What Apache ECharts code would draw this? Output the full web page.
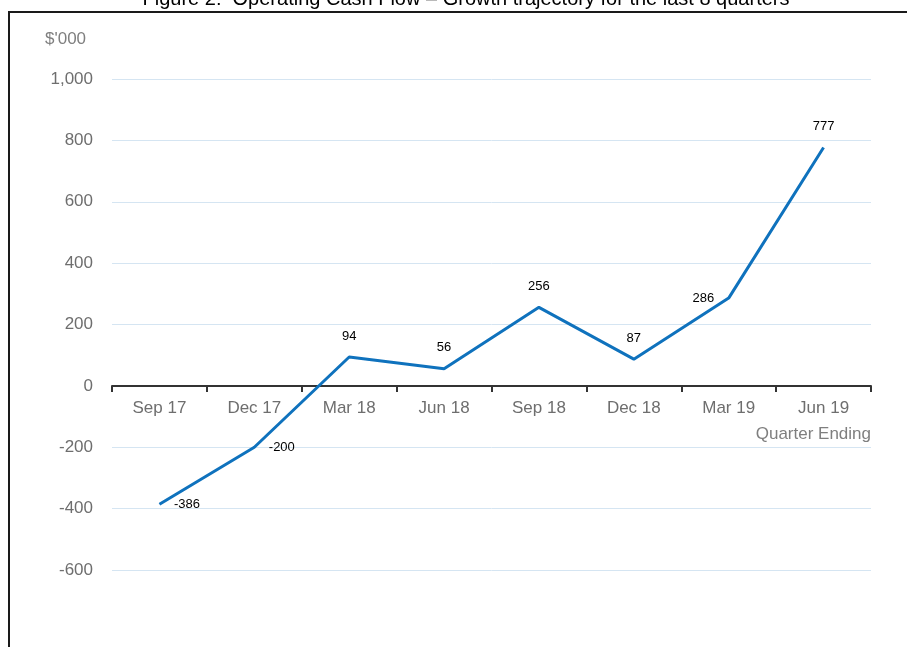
<!DOCTYPE html>
<html>
<head>
<meta charset="utf-8">
<script src="https://cdn.jsdelivr.net/npm/echarts@6/dist/echarts.min.js"></script>
<style>html,body{margin:0;padding:0;background:#fff}#c{width:907px;height:647px}</style>
</head>
<body>
<div id="c"></div>
<script>
const categories = ['Sep 17','Dec 17','Mar 18','Jun 18','Sep 18','Dec 18','Mar 19','Jun 19'];
const cashFlow = [-386, -200, 94, 56, 256, 87, 286, 777];
const labelPositions = ['right','right','top','top','top','top','left','top'];
const yTicks = {min: -600, max: 1000, interval: 200};

const chart = echarts.init(document.getElementById('c'));
const FONT = 'Liberation Sans, Arial, sans-serif';
chart.setOption({
  animation: false,
  textStyle: {fontFamily: FONT},
  grid: {left: 112, right: 36, top: 79, bottom: 77},
  graphic: [
    {type: 'rect', shape: {x: 9, y: 12, width: 1000, height: 700}, style: {fill: 'none', stroke: '#1a1a1a', lineWidth: 2}, z: -1},
    {type: 'text', x: 466, y: -11, style: {text: 'Figure 2:  Operating Cash Flow – Growth trajectory for the last 8 quarters', font: '20px ' + FONT, fill: '#000', textAlign: 'center'}},
    {type: 'text', x: 45, y: 31, style: {text: "$'000", font: '17px ' + FONT, fill: '#7f7f7f'}},
    {type: 'text', x: 871, y: 426, style: {text: 'Quarter Ending', font: '17px ' + FONT, fill: '#7f7f7f', textAlign: 'right'}}
  ],
  xAxis: {
    type: 'category',
    data: categories,
    boundaryGap: true,
    axisLine: {onZero: true, lineStyle: {color: '#333', width: 2}},
    axisTick: {show: true, length: 6, lineStyle: {color: '#333', width: 2}},
    axisLabel: {color: '#6e6e6e', fontSize: 17, margin: -170, fontFamily: FONT},
    splitLine: {show: false}
  },
  yAxis: {
    type: 'value',
    min: yTicks.min, max: yTicks.max, interval: yTicks.interval,
    axisLine: {show: false},
    axisTick: {show: false},
    axisLabel: {color: '#6e6e6e', fontSize: 17, margin: 19, fontFamily: FONT,
      formatter: v => v.toLocaleString('en-US')},
    splitLine: {lineStyle: {color: '#d5e5f2', width: 1}}
  },
  series: [{
    type: 'line',
    data: cashFlow.map((v, i) => ({value: v, label: {position: labelPositions[i]}})),
    showSymbol: true,
    symbol: 'circle',
    symbolSize: 1,
    itemStyle: {color: 'rgba(0,0,0,0)'},
    lineStyle: {color: '#0f72bd', width: 3},
    label: {show: true, color: '#000', fontSize: 13, distance: 14, fontFamily: FONT},
    z: 3
  }]
});
</script>
</body>
</html>
